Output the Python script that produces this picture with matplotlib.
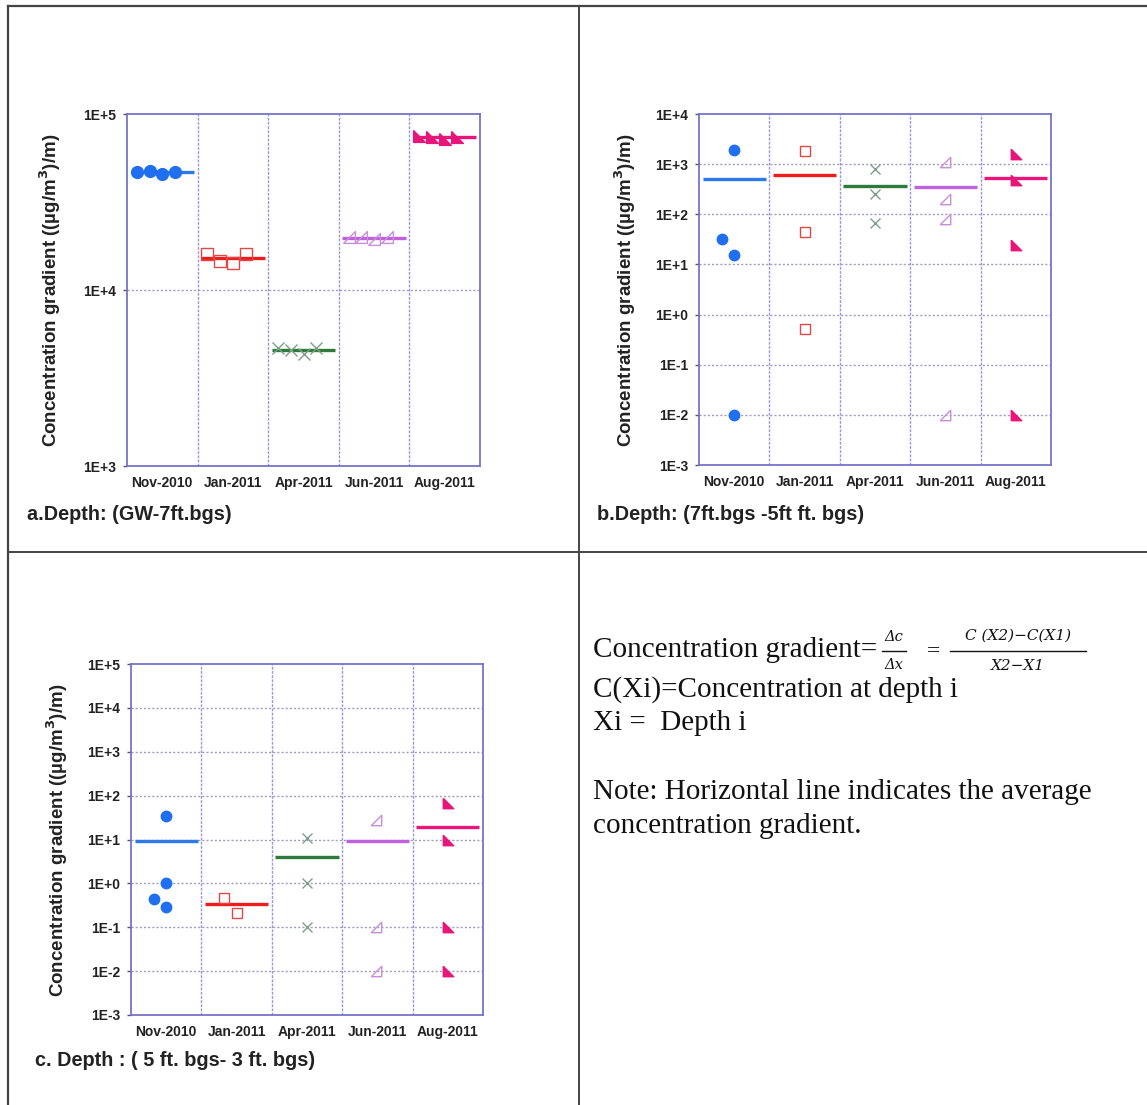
import numpy as np
import matplotlib
matplotlib.use("Agg")
import matplotlib.pyplot as plt
from matplotlib.lines import Line2D

# ---------------- data ----------------
months = ["Nov-2010", "Jan-2011", "Apr-2011", "Jun-2011", "Aug-2011"]

# Panel a: Depth GW-7ft.bgs
a_nov = [47000, 47500, 45600, 47000]
a_jan = [16000, 14650, 14300, 16000]
a_apr = [4710, 4590, 4320, 4710]
a_jun = [20000, 20000, 19400, 20000]
a_aug = [75000, 74000, 72500, 74000]

# Panel b: Depth 7ft.bgs - 5ft.bgs
b_nov = [1950, 32, 15.5, 0.01]
b_jan = [1790, 45, 0.51]
b_apr = [807, 250, 67]
b_jun = [1100, 205, 80, 0.01]
b_aug = [1600, 489, 24, 0.01]

# Panel c: Depth 5ft.bgs - 3ft.bgs
c_nov = [35, 1.0, 0.44, 0.29]
c_jan = [0.455, 0.207]
c_apr = [11, 1.0, 0.1]
c_jun = [28, 0.1, 0.01]
c_aug = [69, 9.8, 0.1, 0.01]

a_ticks = ["1E+3", "1E+4", "1E+5"]
b_ticks = ["1E-3", "1E-2", "1E-1", "1E+0", "1E+1", "1E+2", "1E+3", "1E+4"]
c_ticks = ["1E-3", "1E-2", "1E-1", "1E+0", "1E+1", "1E+2", "1E+3", "1E+4", "1E+5"]

captions = ["a.Depth: (GW-7ft.bgs)",
            "b.Depth: (7ft.bgs -5ft ft. bgs)",
            "c. Depth : ( 5 ft. bgs- 3 ft. bgs)"]
ylabel = "Concentration gradient ((\u00b5g/m$^{\\mathbf{3}}$)/m)"

# ---------------- style ----------------
W, H = 1147, 1105
fig = plt.figure(figsize=(W / 100, H / 100), dpi=100)
plt.rcParams['font.family'] = ['Liberation Sans', 'DejaVu Sans']


def fx(x):
    return x / W


def fy(y):
    return 1 - y / H


tri_open = [(-1, -1), (1, -1), (1, 1), (-1, -1)]
tri_fill = [(-1, 1), (-1, -1), (1, -1), (-1, 1)]

series_style = [
    dict(marker='o', mfc='#1f6ff0', mec='#1f6ff0', line='#2b7ae8', mew=1.0),
    dict(marker='s', mfc='none', mec='#e04848', line='#ee1c1c', mew=1.0),
    dict(marker='x', mfc='none', mec='#7f9f8a', line='#2e7a3a', mew=1.0),
    dict(marker=tri_open, mfc='none', mec='#c88fd8', line='#c060e0', mew=1.0),
    dict(marker=tri_fill, mfc='#e8157a', mec='#e8157a', line='#e8157a', mew=1.0),
]

spine_col = '#7474c8'
grid_col = '#a09cc0'


def draw_panel(rect, groups, offsets, ylim_exp, ticklabels, msize, lw):
    ax = fig.add_axes(rect)
    ax.set_yscale('log')
    ax.set_xlim(0, len(months))
    ax.set_ylim(10.0 ** ylim_exp[0], 10.0 ** ylim_exp[1])
    for i, (vals, offs) in enumerate(zip(groups, offsets)):
        st = series_style[i]
        xs = [i + o for o in offs]
        ax.plot(xs, vals, linestyle='none', marker=st['marker'], ms=msize,
                mfc=st['mfc'], mec=st['mec'], mew=st['mew'], zorder=4)
        ax.plot([i + 0.05, i + 0.95], [np.mean(vals)] * 2, color=st['line'],
                lw=lw, solid_capstyle='butt', zorder=3)
    ax.set_yticks([10.0 ** e for e in range(ylim_exp[0], ylim_exp[1] + 1)])
    ax.set_yticklabels(ticklabels)
    ax.yaxis.set_minor_locator(matplotlib.ticker.NullLocator())
    ax.set_xticks([i + 0.5 for i in range(len(months))])
    ax.set_xticklabels(months)
    ax.tick_params(axis='x', length=0, pad=7, labelsize=10)
    ax.tick_params(axis='y', length=3, width=1, color='#555555', pad=5,
                   labelsize=10)
    for lab in ax.get_xticklabels() + ax.get_yticklabels():
        lab.set_fontweight('bold')
        lab.set_color('#222222')
    for e in range(ylim_exp[0] + 1, ylim_exp[1]):
        ax.axhline(10.0 ** e, color=grid_col, lw=1.0, ls=(0, (1.5, 1.5)),
                   zorder=1)
    for i in range(1, len(months)):
        ax.axvline(i, color='#9c96d8', lw=1.0, ls=(0, (2, 1)), zorder=1)
    for s in ax.spines.values():
        s.set_color(spine_col)
        s.set_linewidth(1.3)
    return ax


# panel a
off_a = [[0.14, 0.32, 0.50, 0.68]] * 5
draw_panel([fx(127), fy(466), (480 - 127) / W, (466 - 114) / H],
           [a_nov, a_jan, a_apr, a_jun, a_aug], off_a, (3, 5), a_ticks, 8.5, 2.4)

# panel b
off_b = [[0.5, 0.32, 0.5, 0.5], [0.5, 0.5, 0.5], [0.5, 0.5, 0.5],
         [0.5, 0.5, 0.5, 0.5], [0.5, 0.5, 0.5, 0.5]]
draw_panel([fx(699), fy(465), (1051 - 699) / W, (465 - 114) / H],
           [b_nov, b_jan, b_apr, b_jun, b_aug], off_b, (-3, 4), b_ticks, 7.5, 2.4)

# panel c
off_c = [[0.5, 0.5, 0.32, 0.5], [0.32, 0.5], [0.5, 0.5, 0.5],
         [0.48, 0.48, 0.48], [0.5, 0.5, 0.5, 0.5]]
draw_panel([fx(131), fy(1015), (483 - 131) / W, (1015 - 664) / H],
           [c_nov, c_jan, c_apr, c_jun, c_aug], off_c, (-3, 5), c_ticks, 7.5, 2.4)

# y labels
for x, y in [(50, 290), (625, 290), (57, 840)]:
    fig.text(fx(x), fy(y), ylabel, rotation=90, ha='center', va='center',
             fontsize=13.5, fontweight='bold', color='#222222')

# captions
fig.text(fx(27), fy(515), captions[0], ha='left', va='center', fontsize=14.3,
         fontweight='bold', color='#222222')
fig.text(fx(597), fy(515), captions[1], ha='left', va='center', fontsize=14.3,
         fontweight='bold', color='#222222')
fig.text(fx(35), fy(1060), captions[2], ha='left', va='center', fontsize=14.3,
         fontweight='bold', color='#222222')

# panel borders
bc = '#444444'
fig.add_artist(Line2D([fx(8), fx(1147)], [fy(6), fy(6)], color=bc, lw=1.6))
fig.add_artist(Line2D([fx(8), fx(8)], [fy(6), fy(1105)], color=bc, lw=1.6))
fig.add_artist(Line2D([fx(579), fx(579)], [fy(6), fy(1105)], color=bc, lw=1.4))
fig.add_artist(Line2D([fx(8), fx(1147)], [fy(552), fy(552)], color=bc, lw=1.4))

# formula text
serif = ['Liberation Serif', 'DejaVu Serif']
tc = '#111111'
fs = 21
fig.text(fx(593), fy(650), "Concentration gradient=", family=serif,
         fontsize=fs, ha='left', va='center', color=tc)
fig.text(fx(894), fy(637), "\u0394c", family=['DejaVu Serif'], style='italic',
         fontsize=10.5, ha='center', va='center', color=tc)
fig.add_artist(Line2D([fx(882), fx(906)], [fy(651), fy(651)], color=tc, lw=1.0))
fig.text(fx(894), fy(665), "\u0394x", family=['DejaVu Serif'], style='italic',
         fontsize=10.5, ha='center', va='center', color=tc)
fig.text(fx(934), fy(652), "=", family=serif, fontsize=17, ha='center',
         va='center', color=tc)
fig.text(fx(1018), fy(636), "C (X2)\u2212C(X1)", family=['DejaVu Serif'],
         style='italic', fontsize=11, ha='center', va='center', color=tc)
fig.add_artist(Line2D([fx(950), fx(1086)], [fy(651), fy(651)], color=tc, lw=1.0))
fig.text(fx(1018), fy(666), "X2\u2212X1", family=['DejaVu Serif'],
         style='italic', fontsize=11, ha='center', va='center', color=tc)
fig.text(fx(593), fy(690), "C(Xi)=Concentration at depth i", family=serif,
         fontsize=fs, ha='left', va='center', color=tc)
fig.text(fx(593), fy(723), "Xi =  Depth i", family=serif,
         fontsize=fs, ha='left', va='center', color=tc)
fig.text(fx(593), fy(792), "Note: Horizontal line indicates the average",
         family=serif, fontsize=fs, ha='left', va='center', color=tc)
fig.text(fx(593), fy(826), "concentration gradient.", family=serif,
         fontsize=fs, ha='left', va='center', color=tc)

fig.savefig("out.png", dpi=100, facecolor='white')
